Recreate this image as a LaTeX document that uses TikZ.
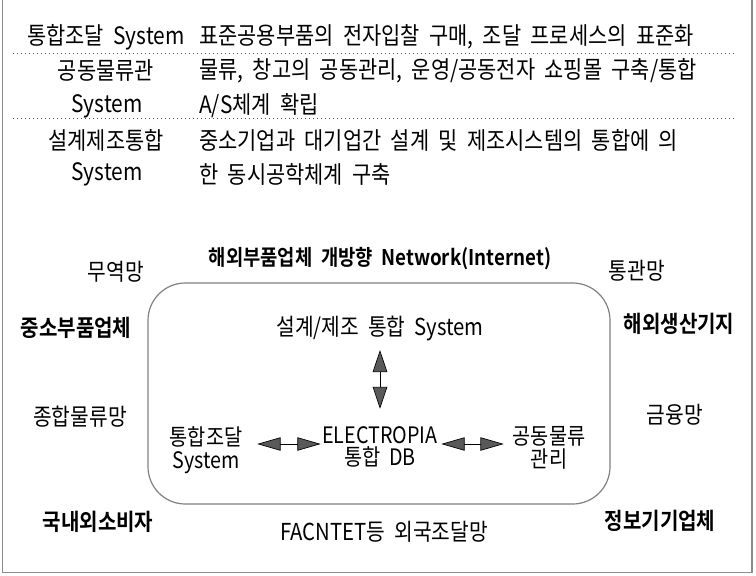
\documentclass[tikz,border=0pt]{standalone}
\usepackage{fontspec}
\setmainfont{Noto Sans CJK KR}[BoldFont={Noto Sans CJK KR Bold}, FakeStretch=0.87, WordSpace=2]
\usetikzlibrary{arrows.meta}
\begin{document}
\begin{tikzpicture}[x=0.75pt,y=-0.75pt,
  txt/.style={inner sep=0pt, font=\fontsize{18pt}{19pt}\selectfont},
  dtxt/.style={inner sep=0pt, font=\fontsize{17.5pt}{19pt}\selectfont},
  lbl/.style={inner sep=0pt, font=\fontsize{17.3pt}{19pt}\selectfont\bfseries},
  two/.style={inner sep=0pt, align=center, font=\fontsize{17pt}{17pt}\selectfont},
  dots/.style={draw=black!70, line width=0.6pt, dash pattern=on 0.6pt off 2.4pt},
  frame/.style={draw=black!45, line width=1.1pt},
  hub/.style={draw=black!50, line width=0.9pt, rounded corners=28pt},
  dblh/.style={draw=black, line width=0.5pt, {Triangle[length=17.5pt,width=10pt,fill=black!65]}-{Triangle[length=17.5pt,width=10pt,fill=black!65]}},
  dblv/.style={draw=black, line width=0.5pt, {Triangle[length=16.5pt,width=11pt,fill=black!65]}-{Triangle[length=16.5pt,width=11pt,fill=black!65]}},
]
\useasboundingbox (0,0) rectangle (756,575);
% outer frame
\draw[frame] (2.5,0) -- (2.5,572.5) -- (752,572.5) -- (752,0);

% top table
\node[txt] (l1) at (106,37) {통합조달 System};
\node[txt, anchor=west] (r1) at (199,37) {표준공용부품의 전자입찰 구매, 조달 프로세스의 표준화};
\draw[dots] (13,53) -- (734,53);
\node[txt] (l2) at (106,71) {공동물류관};
\node[txt, anchor=west] (r2) at (199,71) {물류, 창고의 공동관리, 운영/공동전자 쇼핑몰 구축/통합};
\node[txt] (l3) at (107,106) {System};
\node[txt, anchor=west] (r3) at (199,106) {A/S체계 확립};
\draw[dots] (13,118) -- (734,118);
\node[txt] (l4) at (106,140) {설계제조통합};
\node[txt, anchor=west] (r4) at (199,140) {중소기업과 대기업간 설계 및 제조시스템의 통합에 의};
\node[txt] (l5) at (107,174) {System};
\node[txt, anchor=west] (r5) at (199,174) {한 동시공학체계 구축};

% hub
\draw[hub] (148,283) rectangle (610,504);

% surrounding labels
\node[lbl, font=\fontsize{16.2pt}{18pt}\selectfont\bfseries] (net) at (380,259) {해외부품업체 개방향 Network(Internet)};
\node[dtxt] (trade) at (116,272) {무역망};
\node[dtxt] (cust) at (637,271) {통관망};
\node[lbl] (smb) at (76,328) {중소부품업체};
\node[lbl] (abroad) at (679,324) {해외생산기지};
\node[dtxt] (logi) at (80,417) {종합물류망};
\node[dtxt] (fin) at (675,415) {금융망};
\node[lbl] (cons) at (98,522) {국내외소비자};
\node[lbl] (info) at (660,521) {정보기기업체};
\node[dtxt] (fac) at (384,532) {FACNTET등 외국조달망};

% inner nodes
\node[dtxt] (sys) at (380,328) {설계/제조 통합 System};
\node[two] (tj) at (206,450) {통합조달\\System};
\node[two] (db) at (380,447) {ELECTROPIA\\통합 DB};
\node[two] (gl) at (549,448) {공동물류\\관리};

% connectors
\draw[dblv, shorten <=7pt, shorten >=13pt] (sys.south) -- (db.north);
\draw[dblh, shorten <=11pt, shorten >=1pt] ([yshift=4.5pt]tj.east) -- ([yshift=2.25pt]db.west);
\draw[dblh, shorten <=2.5pt, shorten >=6.5pt] ([yshift=2.25pt]db.east) -- ([yshift=3pt]gl.west);
\end{tikzpicture}
\end{document}
